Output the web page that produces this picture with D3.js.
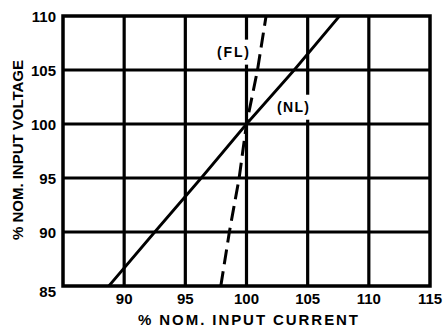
<!DOCTYPE html>
<html>
<head>
<meta charset="utf-8">
<script src="https://cdn.jsdelivr.net/npm/d3@7"></script>
<style>
  body { margin: 0; background: #fff; }
  text { font-family: "Liberation Sans", Arial, sans-serif; font-weight: bold; fill: #000; }
</style>
</head>
<body>
<script>
// axis ticks
var xTicks = [85, 90, 95, 100, 105, 110, 115];
var yTicks = [85, 90, 95, 100, 105, 110];
// voltage steps used for both curves
var voltage = [85, 90, 95, 100, 105, 110];
// no load (solid) and full load (dashed) current
var nlCurrent = [88.75, 92.5, 96.3, 100, 103.9, 107.6];
var flCurrent = [97.9, 98.6, 99.4, 100, 100.9, 101.6];
// curve labels
var labels = [
  {text: "(FL)", x: 98.9, y: 106.7},
  {text: "(NL)", x: 103.8, y: 101.6}
];

var W = 443, H = 331;
var m = {top: 16, right: 13, bottom: 45, left: 63};

var svg = d3.select("body").append("svg")
  .attr("width", W)
  .attr("height", H);

var x = d3.scaleLinear().domain([85, 115]).range([m.left, W - m.right]);
var y = d3.scaleLinear().domain([85, 110]).range([H - m.bottom, m.top]);

// grid lines
svg.append("g").selectAll("line")
  .data(xTicks.slice(1, -1)).enter()
  .append("line")
  .attr("x1", d => x(d)).attr("x2", d => x(d))
  .attr("y1", y(85)).attr("y2", y(110))
  .attr("stroke", "#000").attr("stroke-width", 3.2);

svg.append("g").selectAll("line")
  .data(yTicks.slice(1, -1)).enter()
  .append("line")
  .attr("x1", x(85)).attr("x2", x(115))
  .attr("y1", d => y(d)).attr("y2", d => y(d))
  .attr("stroke", "#000").attr("stroke-width", 3);

// label boxes break the grid lines
var lab = svg.append("g").selectAll("g").data(labels).enter().append("g");
lab.append("rect")
  .attr("x", d => x(d.x) - 17).attr("y", d => y(d.y) - 12)
  .attr("width", 34).attr("height", 25)
  .attr("fill", "#fff");
lab.append("text")
  .attr("x", d => x(d.x)).attr("y", d => y(d.y))
  .attr("text-anchor", "middle").attr("dy", "0.35em")
  .style("font-size", "14px")
  .attr("textLength", 32).attr("lengthAdjust", "spacing")
  .text(d => d.text);

// curves
svg.append("clipPath").attr("id", "plot")
  .append("rect")
  .attr("x", x(85)).attr("y", y(110))
  .attr("width", x(115) - x(85)).attr("height", y(85) - y(110));

var line = d3.line()
  .x(d => x(d[0]))
  .y(d => y(d[1]));

svg.append("path")
  .datum(d3.zip(nlCurrent, voltage))
  .attr("d", line)
  .attr("clip-path", "url(#plot)")
  .attr("fill", "none").attr("stroke", "#000").attr("stroke-width", 2.8);

svg.append("path")
  .datum(d3.zip(flCurrent, voltage))
  .attr("d", line)
  .attr("clip-path", "url(#plot)")
  .attr("fill", "none").attr("stroke", "#000").attr("stroke-width", 3)
  .attr("stroke-dasharray", "15,7");

// frame
svg.append("rect")
  .attr("x", x(85)).attr("y", y(110))
  .attr("width", x(115) - x(85)).attr("height", y(85) - y(110))
  .attr("fill", "none").attr("stroke", "#000").attr("stroke-width", 3.5);

// tick labels
svg.append("g").selectAll("text")
  .data(xTicks.slice(1)).enter()
  .append("text")
  .attr("x", d => x(d)).attr("y", H - m.bottom + 13)
  .attr("text-anchor", "middle").attr("dy", "0.35em")
  .style("font-size", "15px")
  .text(d => d);

svg.append("g").selectAll("text")
  .data(yTicks).enter()
  .append("text")
  .attr("x", m.left - 7).attr("y", d => y(d) + (d == 85 ? 6 : 1))
  .attr("text-anchor", "end").attr("dy", "0.35em")
  .style("font-size", "15px")
  .text(d => d);

// axis titles
svg.append("text")
  .attr("x", 248).attr("y", 320)
  .attr("text-anchor", "middle").attr("dy", "0.35em")
  .style("font-size", "15px")
  .attr("textLength", 220).attr("lengthAdjust", "spacing")
  .text("% NOM. INPUT CURRENT");

svg.append("text")
  .attr("transform", "translate(18,150) rotate(-90)")
  .attr("text-anchor", "middle").attr("dy", "0.35em")
  .style("font-size", "15px")
  .attr("textLength", 180).attr("lengthAdjust", "spacing")
  .text("% NOM. INPUT VOLTAGE");
</script>
</body>
</html>
